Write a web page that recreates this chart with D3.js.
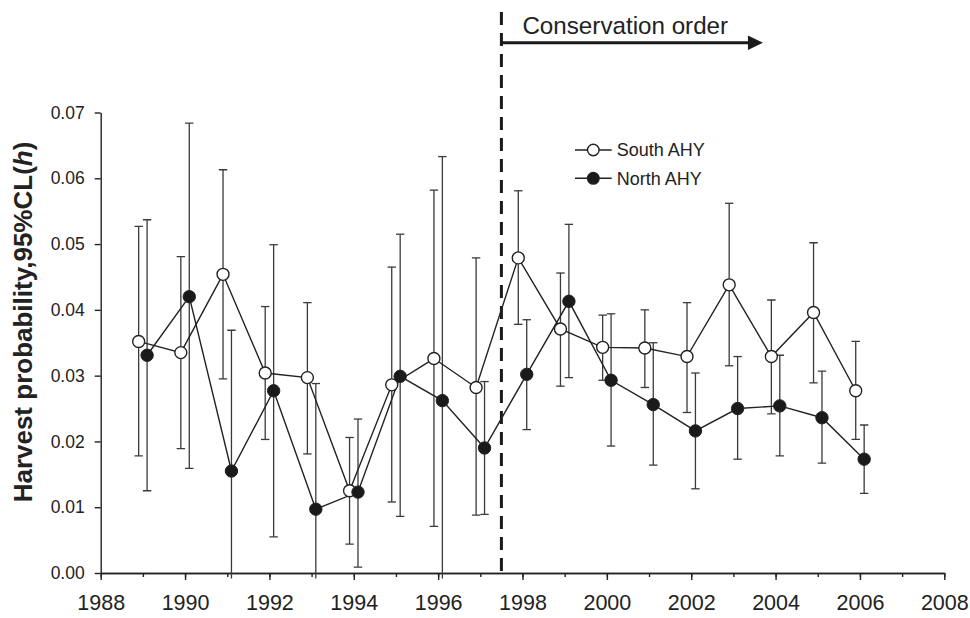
<!DOCTYPE html>
<html>
<head>
<meta charset="utf-8">
<script src="https://cdn.jsdelivr.net/npm/d3@7/dist/d3.min.js"></script>
<style>
  html, body { margin: 0; padding: 0; background: #fff; }
  svg { display: block; font-family: "Liberation Sans", Arial, Helvetica, sans-serif; }
</style>
</head>
<body>
<svg id="chart" width="970" height="618"></svg>
<script>
// Harvest probability estimates with 95% confidence limits, 1989-2006
const years = [1989, 1990, 1991, 1992, 1993, 1994, 1995, 1996, 1997,
               1998, 1999, 2000, 2001, 2002, 2003, 2004, 2005, 2006];

const southH  = [0.0352, 0.0335, 0.0454, 0.0304, 0.0297, 0.0125, 0.0286, 0.0326, 0.0282,
                 0.0479, 0.0371, 0.0343, 0.0342, 0.0329, 0.0438, 0.0329, 0.0396, 0.0277];
const southLo = [0.0178, 0.0189, 0.0295, 0.0203, 0.0181, 0.0044, 0.0108, 0.0071, 0.0088,
                 0.0378, 0.0284, 0.0293, 0.0282, 0.0244, 0.0315, 0.0242, 0.0289, 0.0203];
const southHi = [0.0527, 0.0481, 0.0613, 0.0405, 0.0411, 0.0206, 0.0465, 0.0582, 0.0479,
                 0.0581, 0.0456, 0.0392, 0.0400, 0.0411, 0.0562, 0.0415, 0.0502, 0.0352];

const northH  = [0.0331, 0.0420, 0.0155, 0.0277, 0.0097, 0.0123, 0.0299, 0.0262, 0.0190,
                 0.0302, 0.0413, 0.0293, 0.0256, 0.0216, 0.0250, 0.0254, 0.0236, 0.0173];
const northLo = [0.0125, 0.0159, -0.0050, 0.0055, -0.0050, 0.0009, 0.0086, -0.0050, 0.0089,
                 0.0218, 0.0297, 0.0193, 0.0164, 0.0128, 0.0173, 0.0178, 0.0167, 0.0121];
const northHi = [0.0537, 0.0684, 0.0369, 0.0499, 0.0288, 0.0234, 0.0515, 0.0633, 0.0291,
                 0.0385, 0.0530, 0.0394, 0.0350, 0.0304, 0.0329, 0.0331, 0.0307, 0.0225];

const seriesNames = ["South AHY", "North AHY"];
const majorYears = [1988, 1990, 1992, 1994, 1996, 1998, 2000, 2002, 2004, 2006, 2008];
const yTicks = [0, 0.01, 0.02, 0.03, 0.04, 0.05, 0.06, 0.07];
const orderStart = 1997.5;   // start of the conservation order
const orderArrowEnd = 2003.7;
const orderLabel = "Conservation order";

const svg = d3.select("#chart");
const W = 970, H = 618;
const margin = { top: 112.5, right: 25.7, bottom: 45, left: 100.7 };

const x = d3.scaleLinear().domain([1988, 2008]).range([margin.left, W - margin.right]);
const y = d3.scaleLinear().domain([0, 0.07]).range([H - margin.bottom, margin.top]);

const ink = "#222";
const barInk = "#3a3a3a";

// clip for error bars: plot area, a little below the x axis
svg.append("defs").append("clipPath").attr("id", "plotclip")
  .append("rect")
  .attr("x", margin.left).attr("y", 0)
  .attr("width", W - margin.left - margin.right)
  .attr("height", y(0) + 5.5);

// Axes
const xMinor = d3.axisBottom(x)
  .tickValues(d3.range(1988, 2009))
  .tickSize(4).tickSizeOuter(0).tickFormat("");
const xMajor = d3.axisBottom(x)
  .tickValues(majorYears)
  .tickSize(7).tickSizeOuter(0).tickPadding(15)
  .tickFormat(d3.format("d"));

const gxMinor = svg.append("g").attr("transform", `translate(0,${y(0)})`).call(xMinor);
const gx = svg.append("g").attr("transform", `translate(0,${y(0)})`).call(xMajor);
gx.selectAll("text").attr("font-size", 21.5).attr("fill", ink);

const yAxis = d3.axisLeft(y)
  .tickValues(yTicks)
  .tickSize(6).tickSizeOuter(0).tickPadding(10)
  .tickFormat(d3.format(".2f"));
const gy = svg.append("g").attr("transform", `translate(${x(1988)},0)`).call(yAxis);
gy.selectAll("text").attr("font-size", 17.5).attr("fill", ink);

[gx, gxMinor, gy].forEach(g => {
  g.selectAll("path, line").attr("stroke", ink).attr("stroke-width", 1.4);
  g.attr("font-family", null);
});

// Y axis title
const yTitle = svg.append("text")
  .attr("transform", `translate(32,322) rotate(-90)`)
  .attr("text-anchor", "middle")
  .attr("font-size", 26)
  .attr("font-weight", "bold")
  .attr("fill", ink);
yTitle.append("tspan").text("Harvest probability,95%CL(");
yTitle.append("tspan").attr("font-style", "italic").text("h");
yTitle.append("tspan").text(")");

// Conservation order marker
svg.append("line")
  .attr("x1", x(orderStart)).attr("x2", x(orderStart))
  .attr("y1", 12).attr("y2", y(0))
  .attr("stroke", "#1a1a1a").attr("stroke-width", 3)
  .attr("stroke-dasharray", "13,8");

svg.append("line")
  .attr("x1", x(orderStart)).attr("x2", x(orderArrowEnd) - 14)
  .attr("y1", 42.7).attr("y2", 42.7)
  .attr("stroke", "#1a1a1a").attr("stroke-width", 3);
svg.append("path")
  .attr("d", d3.line()([[x(orderArrowEnd) - 15, 35.5], [x(orderArrowEnd), 42.7], [x(orderArrowEnd) - 15, 49.9]]) + "Z")
  .attr("fill", "#1a1a1a");

svg.append("text")
  .attr("x", x(orderStart) + 21).attr("y", 34)
  .attr("font-size", 24.2)
  .attr("fill", ink)
  .text(orderLabel);

// Data
function rows(h, lo, hi, off) {
  return years.map((yr, i) => ({ x: yr + off, h: h[i], lo: lo[i], hi: hi[i] }));
}
const south = rows(southH, southLo, southHi, -0.1);
const north = rows(northH, northLo, northHi, 0.1);

const lineGen = d3.line().x(d => x(d.x)).y(d => y(d.h));

function drawBars(data) {
  const g = svg.append("g").attr("clip-path", "url(#plotclip)")
    .attr("stroke", barInk).attr("stroke-width", 1.3);
  g.selectAll("line.v").data(data).join("line")
    .attr("x1", d => x(d.x)).attr("x2", d => x(d.x))
    .attr("y1", d => y(d.lo)).attr("y2", d => y(d.hi));
  g.selectAll("line.top").data(data).join("line")
    .attr("x1", d => x(d.x) - 4.2).attr("x2", d => x(d.x) + 4.2)
    .attr("y1", d => y(d.hi)).attr("y2", d => y(d.hi));
  g.selectAll("line.bot").data(data.filter(d => d.lo >= 0)).join("line")
    .attr("x1", d => x(d.x) - 4.2).attr("x2", d => x(d.x) + 4.2)
    .attr("y1", d => y(d.lo)).attr("y2", d => y(d.lo));
}

drawBars(south);
drawBars(north);

svg.append("path").datum(south).attr("d", lineGen)
  .attr("fill", "none").attr("stroke", ink).attr("stroke-width", 1.4);
svg.append("path").datum(north).attr("d", lineGen)
  .attr("fill", "none").attr("stroke", ink).attr("stroke-width", 1.4);

svg.append("g").selectAll("circle").data(south).join("circle")
  .attr("cx", d => x(d.x)).attr("cy", d => y(d.h)).attr("r", 6)
  .attr("fill", "#fff").attr("stroke", ink).attr("stroke-width", 1.4);
svg.append("g").selectAll("circle").data(north).join("circle")
  .attr("cx", d => x(d.x)).attr("cy", d => y(d.h)).attr("r", 6.2)
  .attr("fill", "#1a1a1a").attr("stroke", ink).attr("stroke-width", 1);

// Legend
const legend = svg.append("g").attr("transform", "translate(575,150)");
seriesNames.forEach((name, i) => {
  const g = legend.append("g").attr("transform", `translate(0,${i * 28.3})`);
  g.append("line").attr("x1", 0).attr("x2", 36.7).attr("y1", 0).attr("y2", 0)
    .attr("stroke", ink).attr("stroke-width", 1.4);
  g.append("circle").attr("cx", 18.3).attr("cy", 0).attr("r", 5.8)
    .attr("fill", i === 0 ? "#fff" : "#1a1a1a").attr("stroke", ink).attr("stroke-width", 1.4);
  g.append("text").attr("x", 41.7).attr("y", 0).attr("dy", "0.36em")
    .attr("font-size", 18).attr("fill", ink).text(name);
});
</script>
</body>
</html>
